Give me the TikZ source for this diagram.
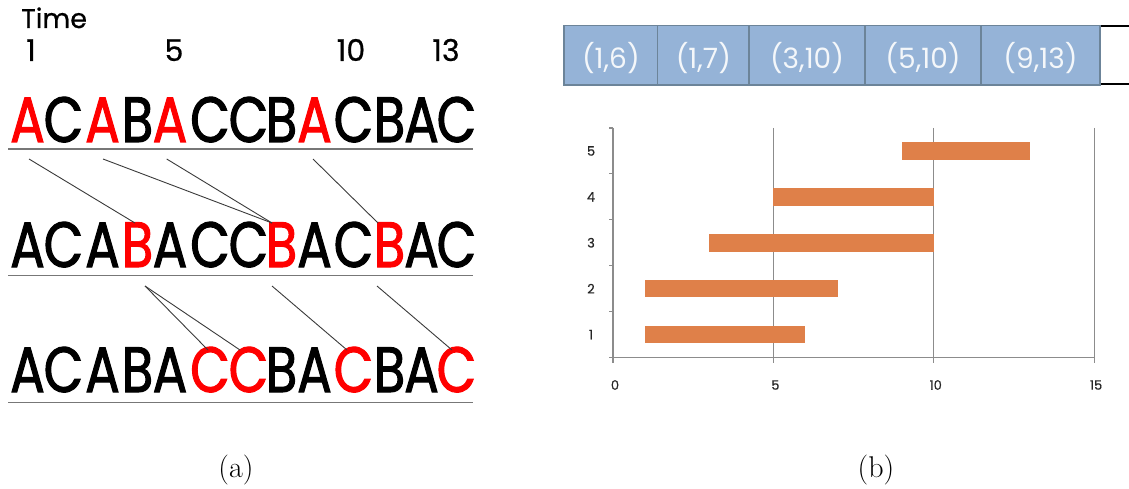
\documentclass[tikz,border=0pt]{standalone}
\usepackage{fontspec}
\newfontfamily\gothic[FakeBold=0.6]{Poppins}
\newfontfamily\gothicthin{Poppins}
\newfontfamily\gothicn[FakeStretch=0.8,FakeBold=1.6]{Poppins}
\usetikzlibrary{calc}
\definecolor{cellblue}{HTML}{95B3D7}
\definecolor{cellborder}{HTML}{6C8499}
\definecolor{barorange}{HTML}{DF8049}
\definecolor{gridgray}{HTML}{8C8C8C}
\definecolor{linkgray}{HTML}{3A3A3A}
\definecolor{rulegray}{HTML}{777777}
\definecolor{celltext}{HTML}{F4F7FA}
\begin{document}
\begin{tikzpicture}[x=1pt,y=-1pt,
  letter/.style={font=\gothicn\fontsize{64}{64}\selectfont, inner sep=0pt, anchor=base},
  timelabel/.style={font=\gothic\fontsize{27}{27}\selectfont, inner sep=0pt, anchor=base},
  numlabel/.style={font=\gothic\fontsize{30}{30}\selectfont, inner sep=0pt, anchor=base},
  link/.style={draw=linkgray, line width=0.9pt},
  seqrule/.style={draw=rulegray, line width=1.8pt},
  cell/.style={draw=cellborder, fill=cellblue, line width=1.5pt, minimum height=59.3pt, inner sep=0pt},
  celllabel/.style={font=\gothicthin\fontsize{28}{28}\selectfont, text=celltext, inner sep=0pt},
  gridline/.style={draw=gridgray, line width=1.1pt},
  ticklabel/.style={font=\gothic\fontsize{13}{13}\selectfont, text=black!85, inner sep=0pt},
  caption/.style={font=\fontsize{30}{36}\selectfont, inner sep=0pt, anchor=base}]
\useasboundingbox (0,0) rectangle (1129,489);

% ---------- (a) ----------
\node[timelabel, anchor=base west] (time) at (21,28) {Time};
\node[numlabel] (n1) at (31,61) {1};
\node[numlabel] (n5) at (174,61) {5};
\node[numlabel] (n10) at (351,61) {10};
\node[numlabel] (n13) at (446,61) {13};

\foreach \ch/\xx/\cc [count=\i] in {A/27.5/red, C/63.5/black, A/102.5/red, B/137.5/black, A/170/red, C/210/black, C/248.5/black, B/281.5/black, A/314.5/red, C/353.5/black, B/389.5/black, A/421.5/black, C/456.5/black}
  \node[letter, text=\cc] (r1l\i) at (\xx,142) {\ch};
\foreach \ch/\xx/\cc [count=\i] in {A/27.5/black, C/63.5/black, A/102.5/black, B/137.5/red, A/170/black, C/210/black, C/248.5/black, B/281.5/red, A/314.5/black, C/353.5/black, B/389.5/red, A/421.5/black, C/456.5/black}
  \node[letter, text=\cc] (r2l\i) at (\xx,267) {\ch};
\foreach \ch/\xx/\cc [count=\i] in {A/27.5/black, C/63.5/black, A/102.5/black, B/137.5/black, A/170/black, C/210/red, C/248.5/red, B/281.5/black, A/314.5/black, C/353.5/red, B/389.5/black, A/421.5/black, C/456.5/red}
  \node[letter, text=\cc] (r3l\i) at (\xx,392) {\ch};

\draw[seqrule] ($(r1l1.base)+(-19.5,7)$) -- ($(r1l13.base)+(16.5,7)$);
\draw[seqrule] ($(r2l1.base)+(-19.5,8.5)$) -- ($(r2l13.base)+(16.5,8.5)$);
\draw[seqrule] ($(r3l1.base)+(-19.5,10.5)$) -- ($(r3l13.base)+(16.5,10.5)$);

\draw[link] ($(r1l1.base)+(1.5,17)$) -- ($(r2l4.base)+(-2.5,-44)$);
\draw[link] ($(r1l3.base)+(0.5,17)$) -- ($(r2l8.base)+(-9.5,-44)$);
\draw[link] ($(r1l5.base)+(-3.3,17)$) -- ($(r2l8.base)+(-9.5,-44)$);
\draw[link] ($(r1l9.base)+(-1.5,17)$) -- ($(r2l11.base)+(-11.5,-44)$);
\draw[link] ($(r2l4.base)+(7.5,19)$) -- ($(r3l6.base)+(-2,-42)$);
\draw[link] ($(r2l4.base)+(7.5,19)$) -- ($(r3l7.base)+(-8.5,-42)$);
\draw[link] ($(r2l8.base)+(-9.5,19)$) -- ($(r3l10.base)+(-6.5,-42)$);
\draw[link] ($(r2l11.base)+(-12.5,19)$) -- ($(r3l13.base)+(-4.5,-42)$);

\node[caption] (capa) at (236,477) {(a)};

% ---------- (b) ----------
\node[cell, minimum width=93.7pt] (c1) at (610.85,55.35) {};
\node[cell, minimum width=91.3pt] (c2) at (703.35,55.35) {};
\node[cell, minimum width=116pt] (c3) at (807,55.35) {};
\node[cell, minimum width=116pt] (c4) at (923,55.35) {};
\node[cell, minimum width=119pt] (c5) at (1040.5,55.35) {};
\node[celllabel] at ($(c1.center)+(0,3)$) {(1,6)};
\node[celllabel] at ($(c2.center)+(0,3)$) {(1,7)};
\node[celllabel] at ($(c3.center)+(0,3)$) {(3,10)};
\node[celllabel] at ($(c4.center)+(0,3)$) {(5,10)};
\node[celllabel] at ($(c5.center)+(0,3)$) {(9,13)};
\coordinate (topend) at (1129,26.2);
\coordinate (botend) at (1129,84.5);
\draw[black, line width=2pt] (c5.east |- topend) -- (topend);
\draw[black, line width=2pt] (c5.east |- botend) -- (botend);

% chart
\foreach \v in {5,10,15}
  \draw[gridline] ({613+32.07*\v},128) -- ({613+32.07*\v},363);
\draw[gridline] (613,128) -- (613,363);
\draw[gridline] (609,357.5) -- (1094,357.5);
\foreach \k in {0,...,5}
  \draw[gridline] (609,{357.5-45.9*\k}) -- (613,{357.5-45.9*\k});
\foreach \k/\a/\b in {1/1/6,2/1/7,3/3/10,4/5/10,5/9/13}
  \fill[barorange] ({613+32.07*\a},{357.5-45.9*(\k-0.5)-8.75}) rectangle ({613+32.07*\b},{357.5-45.9*(\k-0.5)+8.75});
\foreach \k in {1,...,5}
  \node[ticklabel] at (591,{357.5-45.9*(\k-0.5)}) {\k};
\foreach \v in {0,5,10,15}
  \node[ticklabel] at ({615+32.07*\v},385) {\v};

\node[caption] (capb) at (876,477) {(b)};
\end{tikzpicture}
\end{document}
